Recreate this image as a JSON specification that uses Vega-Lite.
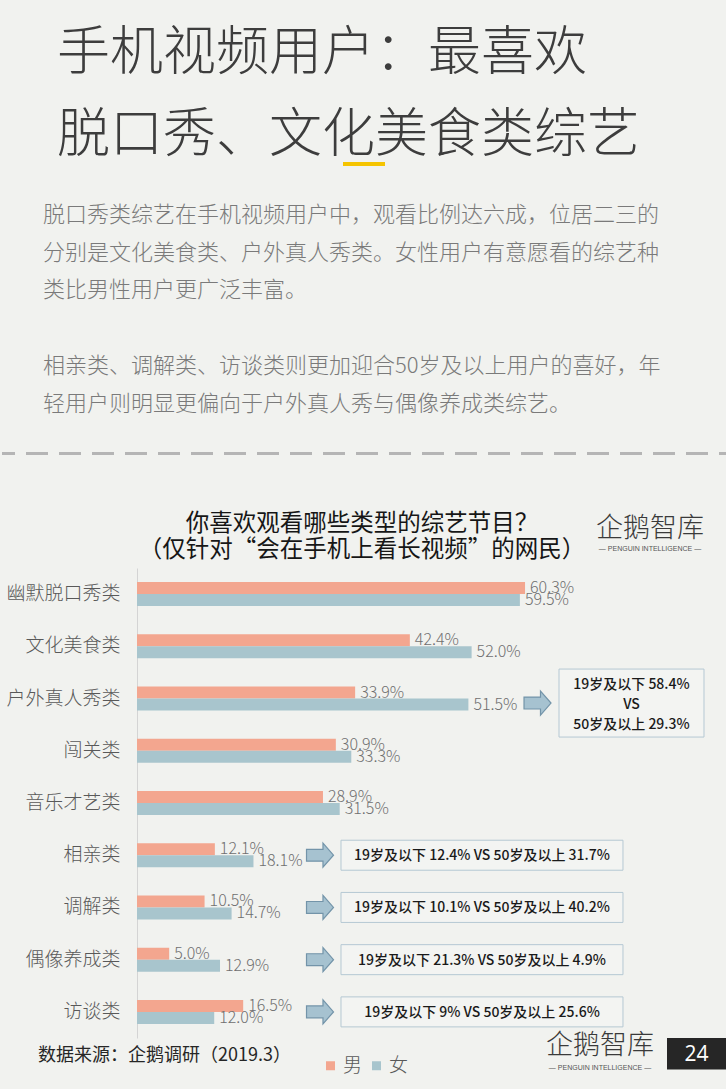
{
  "$schema": "https://vega.github.io/schema/vega-lite/v6.json",
  "background": "#f1f2ef",
  "padding": 0,
  "spacing": 0,
  "bounds": "flush",
  "config": {
    "view": {"stroke": null},
    "font": "Noto Sans CJK SC",
    "axisY": {"ticks": false, "tickSize": 0, "labelPadding": 17, "labelFontSize": 19, "labelFontWeight": 300, "labelColor": "#595959", "domainColor": "#d4d4d4", "grid": false, "labelFont": "Noto Sans CJK SC"}
  },
  "datasets": {
    "bars": [
      {"category": "幽默脱口秀类", "gender": "男", "value": 60.3},
      {"category": "幽默脱口秀类", "gender": "女", "value": 59.5},
      {"category": "文化美食类", "gender": "男", "value": 42.4},
      {"category": "文化美食类", "gender": "女", "value": 52.0},
      {"category": "户外真人秀类", "gender": "男", "value": 33.9},
      {"category": "户外真人秀类", "gender": "女", "value": 51.5},
      {"category": "闯关类", "gender": "男", "value": 30.9},
      {"category": "闯关类", "gender": "女", "value": 33.3},
      {"category": "音乐才艺类", "gender": "男", "value": 28.9},
      {"category": "音乐才艺类", "gender": "女", "value": 31.5},
      {"category": "相亲类", "gender": "男", "value": 12.1},
      {"category": "相亲类", "gender": "女", "value": 18.1},
      {"category": "调解类", "gender": "男", "value": 10.5},
      {"category": "调解类", "gender": "女", "value": 14.7},
      {"category": "偶像养成类", "gender": "男", "value": 5.0},
      {"category": "偶像养成类", "gender": "女", "value": 12.9},
      {"category": "访谈类", "gender": "男", "value": 16.5},
      {"category": "访谈类", "gender": "女", "value": 12.0}
    ],
    "notes": [
      {"category": "户外真人秀类", "note": "19岁及以下 58.4%\nVS\n50岁及以上 29.3%"},
      {"category": "相亲类", "note": "19岁及以下 12.4% VS 50岁及以上 31.7%"},
      {"category": "调解类", "note": "19岁及以下 10.1% VS 50岁及以上 40.2%"},
      {"category": "偶像养成类", "note": "19岁及以下 21.3% VS 50岁及以上 4.9%"},
      {"category": "访谈类", "note": "19岁及以下 9% VS 50岁及以上 25.6%"}
    ]
  },
  "vconcat": [
    {
      "width": 589,
      "height": 568,
      "data": {"values": [{}]},
      "layer": [
        {
          "mark": {"type": "text", "text": "手机视频用户：最喜欢\n脱口秀、文化美食类综艺", "lineBreak": "\n", "lineHeight": 82, "fontSize": 53, "fontWeight": 300, "align": "left", "baseline": "top", "color": "#3d3d3d"},
          "encoding": {
            "x": {"datum": 57, "type": "quantitative", "scale": {"domain": [137, 726], "nice": false, "zero": false}, "axis": null},
            "y": {"datum": 28, "type": "quantitative", "scale": {"domain": [0, 568], "nice": false, "zero": false, "reverse": true}, "axis": null}
          }
        },
        {
          "mark": {"type": "rule", "color": "#f5c400", "strokeWidth": 4},
          "encoding": {
            "x": {"datum": 343, "type": "quantitative", "scale": {"domain": [137, 726], "nice": false, "zero": false}, "axis": null},
            "x2": {"datum": 385},
            "y": {"datum": 164, "type": "quantitative", "scale": {"domain": [0, 568], "nice": false, "zero": false, "reverse": true}, "axis": null}
          }
        },
        {
          "mark": {"type": "text", "text": "脱口秀类综艺在手机视频用户中，观看比例达六成，位居二三的\n分别是文化美食类、户外真人秀类。女性用户有意愿看的综艺种\n类比男性用户更广泛丰富。", "lineBreak": "\n", "lineHeight": 37.6, "fontSize": 22, "fontWeight": 300, "align": "left", "baseline": "top", "color": "#7a7a7a"},
          "encoding": {
            "x": {"datum": 43, "type": "quantitative", "scale": {"domain": [137, 726], "nice": false, "zero": false}, "axis": null},
            "y": {"datum": 205, "type": "quantitative", "scale": {"domain": [0, 568], "nice": false, "zero": false, "reverse": true}, "axis": null}
          }
        },
        {
          "mark": {"type": "text", "text": "相亲类、调解类、访谈类则更加迎合50岁及以上用户的喜好，年\n轻用户则明显更偏向于户外真人秀与偶像养成类综艺。", "lineBreak": "\n", "lineHeight": 37.6, "fontSize": 22, "fontWeight": 300, "align": "left", "baseline": "top", "color": "#7a7a7a"},
          "encoding": {
            "x": {"datum": 43, "type": "quantitative", "scale": {"domain": [137, 726], "nice": false, "zero": false}, "axis": null},
            "y": {"datum": 356, "type": "quantitative", "scale": {"domain": [0, 568], "nice": false, "zero": false, "reverse": true}, "axis": null}
          }
        },
        {
          "mark": {"type": "rule", "color": "#b5b5b5", "strokeWidth": 3, "strokeDash": [22, 11], "strokeDashOffset": 9},
          "encoding": {
            "x": {"datum": 2, "type": "quantitative", "scale": {"domain": [137, 726], "nice": false, "zero": false}, "axis": null},
            "x2": {"datum": 726},
            "y": {"datum": 453.5, "type": "quantitative", "scale": {"domain": [0, 568], "nice": false, "zero": false, "reverse": true}, "axis": null}
          }
        },
        {
          "mark": {"type": "text", "text": "你喜欢观看哪些类型的综艺节目？\n（仅针对“会在手机上看长视频”的网民）", "lineBreak": "\n", "lineHeight": 26, "fontSize": 23.5, "align": "center", "baseline": "top", "color": "#161616"},
          "encoding": {
            "x": {"datum": 362, "type": "quantitative", "scale": {"domain": [137, 726], "nice": false, "zero": false}, "axis": null},
            "y": {"datum": 512, "type": "quantitative", "scale": {"domain": [0, 568], "nice": false, "zero": false, "reverse": true}, "axis": null}
          }
        },
        {
          "mark": {"type": "text", "text": "企鹅智库", "fontSize": 27, "fontWeight": 300, "align": "center", "baseline": "middle", "color": "#3a3a3a"},
          "encoding": {
            "x": {"datum": 650, "type": "quantitative", "scale": {"domain": [137, 726], "nice": false, "zero": false}, "axis": null},
            "y": {"datum": 529, "type": "quantitative", "scale": {"domain": [0, 568], "nice": false, "zero": false, "reverse": true}, "axis": null}
          }
        },
        {
          "mark": {"type": "text", "text": "— PENGUIN  INTELLIGENCE —", "font": "Liberation Sans", "fontSize": 7, "align": "center", "baseline": "middle", "color": "#555555"},
          "encoding": {
            "x": {"datum": 650, "type": "quantitative", "scale": {"domain": [137, 726], "nice": false, "zero": false}, "axis": null},
            "y": {"datum": 549, "type": "quantitative", "scale": {"domain": [0, 568], "nice": false, "zero": false, "reverse": true}, "axis": null}
          }
        }
      ]
    },
    {
      "width": 589,
      "height": 470,
      "layer": [
        {
          "data": {"name": "bars"},
          "mark": {"type": "bar"},
          "encoding": {
            "x": {"field": "value", "type": "quantitative", "scale": {"domain": [0, 91.53], "nice": false}, "axis": null},
            "y": {"field": "category", "type": "nominal", "sort": null,
                  "scale": {"domain": ["幽默脱口秀类", "文化美食类", "户外真人秀类", "闯关类", "音乐才艺类", "相亲类", "调解类", "偶像养成类", "访谈类"], "paddingInner": 0.54, "paddingOuter": 0.27},
                  "axis": {"title": null}},
            "yOffset": {"field": "gender", "type": "nominal", "scale": {"domain": ["男", "女"], "paddingInner": 0, "paddingOuter": 0}},
            "color": {"field": "gender", "type": "nominal", "scale": {"domain": ["男", "女"], "range": ["#f3a68f", "#a8c5cd"]},
                      "legend": {"orient": "none", "legendX": 184, "legendY": 1056, "direction": "horizontal", "title": null, "symbolType": "square", "symbolSize": 81, "symbolStrokeWidth": 0, "labelFontSize": 19, "labelFontWeight": 300, "labelColor": "#595959", "labelOffset": 3, "columnPadding": 4, "padding": 0}}
          }
        },
        {
          "data": {"name": "bars"},
          "transform": [{"calculate": "format(datum.value, '.1f') + '%'", "as": "label"}],
          "mark": {"type": "text", "align": "left", "baseline": "middle", "dx": 5, "fontSize": 16, "fontWeight": 300, "color": "#6f6f6f"},
          "encoding": {
            "x": {"field": "value", "type": "quantitative", "scale": {"domain": [0, 91.53], "nice": false}, "axis": null},
            "y": {"field": "category", "type": "nominal", "sort": null, "scale": {"domain": ["幽默脱口秀类", "文化美食类", "户外真人秀类", "闯关类", "音乐才艺类", "相亲类", "调解类", "偶像养成类", "访谈类"], "paddingInner": 0.54, "paddingOuter": 0.27}, "axis": {"title": null}},
            "yOffset": {"field": "gender", "type": "nominal", "scale": {"domain": ["男", "女"], "paddingInner": 0, "paddingOuter": 0}},
            "text": {"field": "label"}
          }
        },
        {
          "data": {"name": "notes"},
          "transform": [{"filter": "datum.category === '户外真人秀类'"}],
          "mark": {"type": "bar", "height": 68, "yOffset": 4.5, "fill": "#f3f4f2", "stroke": "#b5c8d3", "strokeWidth": 1},
          "encoding": {
            "x": {"datum": 65.58, "type": "quantitative", "scale": {"domain": [0, 91.53], "nice": false}, "axis": null},
            "x2": {"datum": 88.11},
            "y": {"field": "category", "type": "nominal", "sort": null, "scale": {"domain": ["幽默脱口秀类", "文化美食类", "户外真人秀类", "闯关类", "音乐才艺类", "相亲类", "调解类", "偶像养成类", "访谈类"], "paddingInner": 0.54, "paddingOuter": 0.27}, "axis": {"title": null}}
          }
        },
        {
          "data": {"name": "notes"},
          "transform": [{"filter": "datum.category !== '户外真人秀类'"}],
          "mark": {"type": "bar", "height": 30, "fill": "#f3f4f2", "stroke": "#b5c8d3", "strokeWidth": 1},
          "encoding": {
            "x": {"datum": 31.7, "type": "quantitative", "scale": {"domain": [0, 91.53], "nice": false}, "axis": null},
            "x2": {"datum": 75.52},
            "y": {"field": "category", "type": "nominal", "sort": null, "scale": {"domain": ["幽默脱口秀类", "文化美食类", "户外真人秀类", "闯关类", "音乐才艺类", "相亲类", "调解类", "偶像养成类", "访谈类"], "paddingInner": 0.54, "paddingOuter": 0.27}, "axis": {"title": null}}
          }
        },
        {
          "data": {"name": "notes"},
          "transform": [{"filter": "datum.category === '户外真人秀类'"}],
          "mark": {"type": "text", "lineBreak": "\n", "lineHeight": 20, "fontSize": 14, "fontWeight": 500, "align": "center", "baseline": "middle", "yOffset": -13.5, "color": "#1a1a1a"},
          "encoding": {
            "x": {"datum": 76.84, "type": "quantitative", "scale": {"domain": [0, 91.53], "nice": false}, "axis": null},
            "y": {"field": "category", "type": "nominal", "sort": null, "scale": {"domain": ["幽默脱口秀类", "文化美食类", "户外真人秀类", "闯关类", "音乐才艺类", "相亲类", "调解类", "偶像养成类", "访谈类"], "paddingInner": 0.54, "paddingOuter": 0.27}, "axis": {"title": null}},
            "text": {"field": "note"}
          }
        },
        {
          "data": {"name": "notes"},
          "transform": [{"filter": "datum.category !== '户外真人秀类'"}],
          "mark": {"type": "text", "fontSize": 14, "fontWeight": 500, "align": "center", "baseline": "middle", "yOffset": 1, "color": "#1a1a1a"},
          "encoding": {
            "x": {"datum": 53.61, "type": "quantitative", "scale": {"domain": [0, 91.53], "nice": false}, "axis": null},
            "y": {"field": "category", "type": "nominal", "sort": null, "scale": {"domain": ["幽默脱口秀类", "文化美食类", "户外真人秀类", "闯关类", "音乐才艺类", "相亲类", "调解类", "偶像养成类", "访谈类"], "paddingInner": 0.54, "paddingOuter": 0.27}, "axis": {"title": null}},
            "text": {"field": "note"}
          }
        },
        {
          "data": {"name": "notes"},
          "transform": [{"filter": "datum.category === '户外真人秀类'"}],
          "mark": {"type": "point", "shape": "M-1,-0.44L0.22,-0.44L0.22,-0.89L1,0L0.22,0.89L0.22,0.44L-1,0.44Z", "size": 729, "filled": true, "fill": "#a6c2d0", "stroke": "#7394a9", "strokeWidth": 1.2, "opacity": 1, "yOffset": 4.5},
          "encoding": {
            "x": {"datum": 62.24, "type": "quantitative", "scale": {"domain": [0, 91.53], "nice": false}, "axis": null},
            "y": {"field": "category", "type": "nominal", "sort": null, "scale": {"domain": ["幽默脱口秀类", "文化美食类", "户外真人秀类", "闯关类", "音乐才艺类", "相亲类", "调解类", "偶像养成类", "访谈类"], "paddingInner": 0.54, "paddingOuter": 0.27}, "axis": {"title": null}}
          }
        },
        {
          "data": {"name": "notes"},
          "transform": [{"filter": "datum.category !== '户外真人秀类'"}],
          "mark": {"type": "point", "shape": "M-1,-0.44L0.22,-0.44L0.22,-0.89L1,0L0.22,0.89L0.22,0.44L-1,0.44Z", "size": 729, "filled": true, "fill": "#a6c2d0", "stroke": "#7394a9", "strokeWidth": 1.2, "opacity": 1},
          "encoding": {
            "x": {"datum": 28.44, "type": "quantitative", "scale": {"domain": [0, 91.53], "nice": false}, "axis": null},
            "y": {"field": "category", "type": "nominal", "sort": null, "scale": {"domain": ["幽默脱口秀类", "文化美食类", "户外真人秀类", "闯关类", "音乐才艺类", "相亲类", "调解类", "偶像养成类", "访谈类"], "paddingInner": 0.54, "paddingOuter": 0.27}, "axis": {"title": null}}
          }
        }
      ]
    },
    {
      "width": 589,
      "height": 51,
      "data": {"values": [{}]},
      "layer": [
        {
          "mark": {"type": "text", "text": "数据来源：企鹅调研（2019.3）", "fontSize": 18, "align": "left", "baseline": "middle", "color": "#262626"},
          "encoding": {
            "x": {"datum": 38, "type": "quantitative", "scale": {"domain": [137, 726], "nice": false, "zero": false}, "axis": null},
            "y": {"datum": 1055.5, "type": "quantitative", "scale": {"domain": [1038, 1089], "nice": false, "zero": false, "reverse": true}, "axis": null}
          }
        },
        {
          "mark": {"type": "text", "text": "企鹅智库", "fontSize": 27, "fontWeight": 300, "align": "center", "baseline": "middle", "color": "#3a3a3a"},
          "encoding": {
            "x": {"datum": 600, "type": "quantitative", "scale": {"domain": [137, 726], "nice": false, "zero": false}, "axis": null},
            "y": {"datum": 1046, "type": "quantitative", "scale": {"domain": [1038, 1089], "nice": false, "zero": false, "reverse": true}, "axis": null}
          }
        },
        {
          "mark": {"type": "text", "text": "— PENGUIN  INTELLIGENCE —", "font": "Liberation Sans", "fontSize": 7, "align": "center", "baseline": "middle", "color": "#555555"},
          "encoding": {
            "x": {"datum": 600, "type": "quantitative", "scale": {"domain": [137, 726], "nice": false, "zero": false}, "axis": null},
            "y": {"datum": 1068, "type": "quantitative", "scale": {"domain": [1038, 1089], "nice": false, "zero": false, "reverse": true}, "axis": null}
          }
        },
        {
          "mark": {"type": "rect", "color": "#262626"},
          "encoding": {
            "x": {"datum": 667, "type": "quantitative", "scale": {"domain": [137, 726], "nice": false, "zero": false}, "axis": null},
            "x2": {"datum": 726},
            "y": {"datum": 1038, "type": "quantitative", "scale": {"domain": [1038, 1089], "nice": false, "zero": false, "reverse": true}, "axis": null},
            "y2": {"datum": 1069.5}
          }
        },
        {
          "mark": {"type": "text", "text": "24", "font": "Open Sans", "fontSize": 21, "align": "center", "baseline": "middle", "color": "#ffffff"},
          "encoding": {
            "x": {"datum": 696.5, "type": "quantitative", "scale": {"domain": [137, 726], "nice": false, "zero": false}, "axis": null},
            "y": {"datum": 1055, "type": "quantitative", "scale": {"domain": [1038, 1089], "nice": false, "zero": false, "reverse": true}, "axis": null}
          }
        }
      ]
    }
  ]
}
